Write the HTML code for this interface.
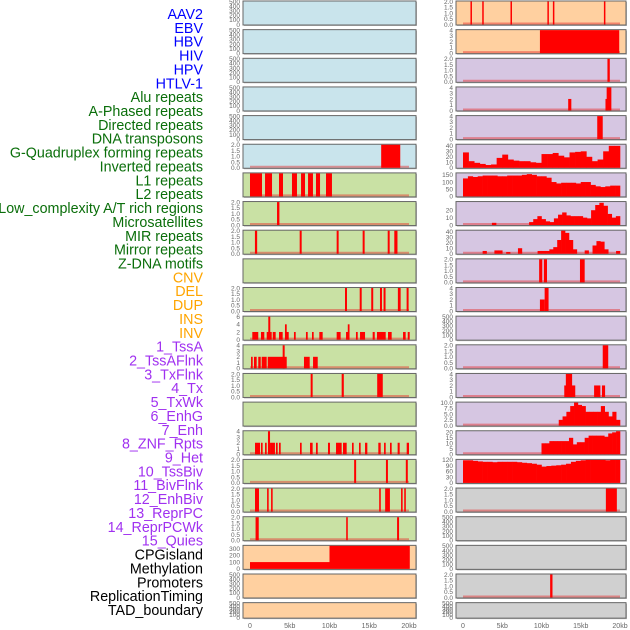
<!DOCTYPE html>
<html><head><meta charset="utf-8">
<style>
html,body{margin:0;padding:0;background:#fff;width:630px;height:630px;overflow:hidden}
svg{display:block}
text{font-family:"Liberation Sans",sans-serif}
</style></head>
<body>
<svg id="chart" width="630" height="630" viewBox="0 0 630 630" xmlns="http://www.w3.org/2000/svg">
<g id="labels"></g>
<g id="panels"></g>
<g id="xaxes"></g>
</svg>
<script>
// ---- label data ----
const trackLabels = ["AAV2","EBV","HBV","HIV","HPV","HTLV-1","Alu repeats","A-Phased repeats","Directed repeats","DNA transposons","G-Quadruplex forming repeats","Inverted repeats","L1 repeats","L2 repeats","Low_complexity A/T rich regions","Microsatellites","MIR repeats","Mirror repeats","Z-DNA motifs","CNV","DEL","DUP","INS","INV","1_TssA","2_TssAFlnk","3_TxFlnk","4_Tx","5_TxWk","6_EnhG","7_Enh","8_ZNF_Rpts","9_Het","10_TssBiv","11_BivFlnk","12_EnhBiv","13_ReprPC","14_ReprPCWk","15_Quies","CPGisland","Methylation","Promoters","ReplicationTiming","TAD_boundary"];
const labelGroups = ["virus","virus","virus","virus","virus","virus","repeat","repeat","repeat","repeat","repeat","repeat","repeat","repeat","repeat","repeat","repeat","repeat","repeat","sv","sv","sv","sv","sv","chrom","chrom","chrom","chrom","chrom","chrom","chrom","chrom","chrom","chrom","chrom","chrom","chrom","chrom","chrom","other","other","other","other","other"];
const groupColors = {virus:"#0000ff",repeat:"#0a6e0a",sv:"#ffa500",chrom:"#a030f0",other:"#000000"};

// ---- x axis ----
const xTicksKb = [0,5,10,15,20];
const xTickLabels = ["0","5kb","10kb","15kb","20kb"];

// ---- panel backgrounds ----
const leftBg  = ["b","b","b","b","b","b","g","g","g","g","g","g","g","g","g","g","g","g","g","p","p","p"];
const rightBg = ["p","p","l","l","l","l","l","l","l","l","l","l","l","l","l","l","l","y","y","y","y","y"];
const bgColors = {b:"#c9e4ec",g:"#c9e1a4",p:"#ffd0a0",l:"#d6c6e2",y:"#d0d0d0"};

// ---- y-axis tick labels per panel ----
const leftTicks = ["e","e","e","e","e","2","n","2","2","n","2","6","4","2","n","4","2","2","2","c","e","e"];
const rightTicks = ["2","4","2","4","4","40","150","30","40","2","4","e","2","4","10","20","120","2","e","e","2","e"];
const tickSets = {
 e:{max:500,vals:[0,100,200,300,400,500],lab:["0","100","200","300","400","500"]},
 "2":{max:2,vals:[0,0.5,1,1.5,2],lab:["0.0","0.5","1.0","1.5","2.0"]},
 "4":{max:4,vals:[0,1,2,3,4],lab:["0","1","2","3","4"]},
 "6":{max:6,vals:[0,2,4,6],lab:["0","2","4","6"]},
 c:{max:340,vals:[0,100,200,300],lab:["0","100","200","300"]},
 "40":{max:42,vals:[0,10,20,30,40],lab:["0","10","20","30","40"]},
 "150":{max:160,vals:[0,50,100,150],lab:["0","50","100","150"]},
 "30":{max:31,vals:[0,10,20],lab:["0","10","20"]},
 "10":{max:10,vals:[0,2.5,5,7.5,10],lab:["0.0","2.5","5.0","7.5","10.0"]},
 "20":{max:21,vals:[0,5,10,15,20],lab:["0","5","10","15","20"]},
 "120":{max:120,vals:[0,30,60,90,120],lab:["0","30","60","90","120"]},
 n:{max:1,vals:[],lab:[]}
};

// ---- left column interval data [startKb, endKb, value] ----
const L5 = [[16.5,18.9,2]];
const L6 = [[0,1.51,1],[1.89,2.77,1],[3.65,4.15,1],[5.28,5.91,1],[6.42,6.92,1],[7.3,7.92,1],[8.3,8.81,1],[9.56,10.31,1]];
const L7 = [[3.4,3.7,2]];
const L8 = [[0.62,0.9,2],[6.25,6.5,2],[10.9,11.15,2],[14.17,14.42,2],[17.32,17.57,2],[18.15,18.55,2]];
const L10 = [[11.95,12.2,2],[13.8,14.05,2],[15.25,15.5,2],[16.35,16.6,2],[16.8,17.05,2],[18.6,18.95,2],[19.7,19.95,2]];
const L11 = [[0.29,1.04,2],[1.38,1.8,2],[2.1,2.73,2],[2.86,3.23,2],[3.65,4.11,2],[4.4,4.87,2],[5.53,5.75,2],[7.04,7.26,2],[7.8,8.01,2],[8.72,9.14,2],[10.9,11.4,2],[12.08,12.5,2],[13.33,13.55,2],[13.84,14.47,2],[15.43,15.69,2],[15.97,17.07,2],[17.36,17.82,2],[19.25,19.58,2],[19.84,20.09,2],[2.3,2.55,6],[4.4,4.62,4],[12.3,12.52,4]];
const L12 = [[0.13,0.34,2],[0.5,0.84,2],[1.04,1.35,2],[1.47,2.1,2],[2.23,4.62,2],[4.11,4.36,4],[6.79,7.51,2],[7.93,8.52,2]];
const L13 = [[7.63,7.88,2],[11.53,11.8,2],[16.0,16.7,2]];
const L15 = [[0.63,1.26,2],[1.38,1.59,2],[1.89,2.1,2],[2.26,2.52,4],[2.52,3.14,2],[3.27,3.48,2],[3.65,3.86,2],[6.29,6.5,2],[7.55,7.88,2],[8.3,8.52,2],[9.81,10.06,2],[10.82,11.53,2],[11.7,12.16,2],[12.83,13.04,2],[13.71,13.92,2],[14.47,14.76,2],[16.14,16.44,2],[16.86,17.07,2],[17.61,17.82,2],[18.57,18.83,2],[19.71,20.0,2]];
const L16 = [[13.1,13.35,2],[17.1,17.35,2],[19.6,19.85,2]];
const L17 = [[0.63,1.13,2],[2.15,2.35,2],[2.65,2.85,2],[16.25,16.45,2],[17.0,17.6,2],[19.0,19.2,2],[19.4,19.6,2]];
const L18 = [[0.7,1.1,2],[12.1,12.3,2],[18.5,18.75,2]];
const L19 = [[0,10,100],[10,20.1,340]];

// ---- right column interval data ----
const R0 = [[0.95,1.1,2],[2.45,2.6,2],[6.05,6.2,2],[10.75,10.9,2],[11.45,11.6,2],[17.95,18.1,2]];
const R1 = [[9.8,19.9,4]];
const R2 = [[18.4,18.7,2]];
const R3 = [[13.4,13.8,2],[18.15,18.4,2],[18.3,18.9,4]];
const R4 = [[17.1,17.8,4]];
const R9 = [[9.7,10.1,2],[10.3,10.7,2],[14.9,15.5,2]];
const R10 = [[9.8,10.4,2],[10.4,10.9,4]];
const R12 = [[17.8,18.5,2]];
const R13 = [[12.9,14.3,2],[13.1,13.9,4],[16.7,17.5,2],[17.7,18.1,2]];
const R17 = [[18.2,19.6,2]];
const R20 = [[11.1,11.4,2]];

// ---- right column binned profiles (evenly spaced over 0-20kb) ----
const P5 = [28,12,9,7,5,6,18,24,15,13,12,12,10,9,25,25,27,22,19,28,29,30,20,12,15,30,40,40];
const P6 = [125,140,135,140,145,145,145,140,140,145,145,145,150,155,150,140,140,130,100,90,95,95,95,90,100,100,80,70,65,70,75,75];
const P7 = [0,0,0,0,0,0,0,3,0,0,0,0,0,0,0,0,4,8,12,8,5,4,9,14,17,13,12,12,12,10,9,20,27,30,26,15,10,12];
const P8 = [0,0,0,0,0,5,0,0,6,6,0,3,0,0,10,0,0,0,0,5,5,5,8,12,25,42,38,25,8,0,0,6,0,15,23,22,8,0,0,5];
const P14 = [0,0,0,0,0,0,0,0,0,0,0,0,0,0,0,0,0,0,0,0,0,0,0,0,0,2.5,4,6,8.5,10,9,8.5,6,6,6,6,8.5,6,4,6,2.5];
const P15 = [0,0,0,0,0,0,0,0,0,0,0,0,0,0,0,0,0,0,0,0,10,10,12,12,12,12,12,15,9,11,11,15,17,17,17,17,16,19,20,21];
const P16 = [118,118,115,112,110,110,108,110,110,110,110,108,105,103,100,95,85,88,90,92,95,100,110,115,118,120,120,120,120,118,120,120];

const leftData = {5:L5,6:L6,7:L7,8:L8,10:L10,11:L11,12:L12,13:L13,15:L15,16:L16,17:L17,18:L18,19:L19};
const rightData = {0:R0,1:R1,2:R2,3:R3,4:R4,9:R9,10:R10,12:R12,13:R13,17:R17,20:R20};
const rightProfiles = {5:P5,6:P6,7:P7,8:P8,14:P14,15:P15,16:P16};

const NS = "http://www.w3.org/2000/svg";
function mk(tag, attrs, parent){const e=document.createElementNS(NS,tag);for(const k in attrs)e.setAttribute(k,attrs[k]);parent.appendChild(e);return e;}

// labels
const gl = document.getElementById("labels");
trackLabels.forEach((t,i)=>{
  const el = mk("text",{x:203,y:19+i*13.86,"text-anchor":"end","font-size":"14.3",fill:groupColors[labelGroups[i]]},gl);
  
  
  el.textContent = t;
});

// geometry
const cols = [
  {x0:243,x1:416,zero:250,kbPx:7.95,bg:leftBg,ticks:leftTicks,data:leftData,prof:{},side:"left"},
  {x0:456,x1:626,zero:463,kbPx:7.85,bg:rightBg,ticks:rightTicks,data:rightData,prof:rightProfiles,side:"right"}
];
const PITCH = 28.65;
const gp = document.getElementById("panels");
cols.forEach(c=>{
  const xs = kb => c.zero + kb*c.kbPx;
  for(let i=0;i<22;i++){
    const top = i*PITCH+1;
    const h = (i===21)?15.5:24;
    const bot = top+h;
    const g = mk("g",{},gp);
    
    
    mk("rect",{x:c.x0+1,y:top+1,width:c.x1-c.x0,height:h,fill:"#bbbbbb"},g);
    mk("rect",{x:c.x0,y:top,width:c.x1-c.x0,height:h,fill:bgColors[c.bg[i]],stroke:"#666","stroke-width":"1"},g);
    const ts = tickSets[c.ticks[i]];
    const ys = v => bot - 0.5 - (v/ts.max)*(h-1);
    const hasData = c.data[i] || c.prof[i];
    if(hasData){
      mk("line",{x1:xs(0),x2:xs(20),y1:bot-1.5,y2:bot-1.5,stroke:"rgba(230,40,40,0.45)","stroke-width":"2"},g);
    }
    if(c.data[i]){
      c.data[i].forEach(d=>{
        const r = mk("rect",{x:xs(d[0]),y:ys(d[2]),width:Math.max(1.5,xs(d[1])-xs(d[0])),height:bot-0.5-ys(d[2]),fill:"#ff0000"},g);
        
        
      });
    }
    if(c.prof[i]){
      const arr = c.prof[i];
      const bw = 20/arr.length;
      arr.forEach((v,k)=>{
        if(v<=0) return;
        const r = mk("rect",{x:xs(k*bw),y:ys(v),width:xs((k+1)*bw)-xs(k*bw)+0.3,height:bot-0.5-ys(v),fill:"#ff0000"},g);
        
        
      });
    }
    ts.vals.forEach((v,k)=>{
      const t = mk("text",{x:c.x0-3,y:ys(v)+2.3,"text-anchor":"end","font-size":"6.5",fill:"#666"},g);
      
      
      t.textContent = ts.lab[k];
    });
  }
  const gx = document.getElementById("xaxes");
  xTicksKb.forEach((kb,k)=>{
    const t = mk("text",{x:xs(kb),y:628,"text-anchor":"middle","font-size":"7",fill:"#666"},gx);
    
    
    t.textContent = xTickLabels[k];
  });
});
</script>
</body></html>
